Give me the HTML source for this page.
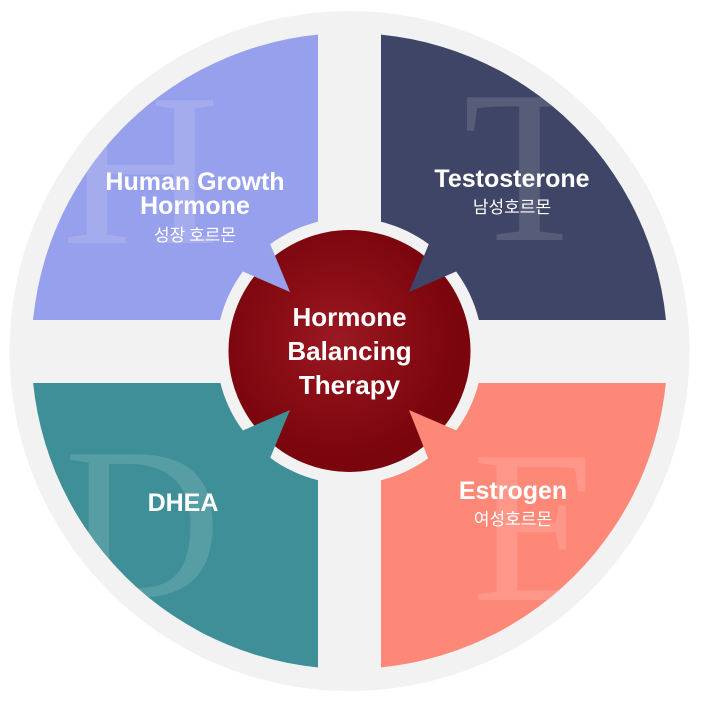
<!DOCTYPE html>
<html><head><meta charset="utf-8"><style>
html,body{margin:0;padding:0;background:#fff;}
svg{display:block}
.t{font-family:"Liberation Sans","Noto Sans CJK KR",sans-serif;fill:#fff;text-anchor:middle;font-weight:bold}
.k{font-family:"Noto Sans CJK KR",sans-serif;fill:#fff;text-anchor:middle;font-size:17px}
.L{font-family:"Liberation Serif",serif;fill:#fff;fill-opacity:0.13;font-size:218px}
</style></head><body>
<svg width="701" height="702" viewBox="0 0 701 702">
<defs>
<clipPath id="c"><circle cx="349.5" cy="351" r="318"/></clipPath>
<radialGradient id="g" cx="0.45" cy="0.45" r="0.5">
<stop offset="0" stop-color="#9a1a22"/><stop offset="0.45" stop-color="#8c0e17"/><stop offset="1" stop-color="#7a050d"/>
</radialGradient>
</defs>
<circle cx="349.5" cy="351" r="340" fill="#f2f2f2"/>
<g clip-path="url(#c)">
<rect x="0" y="0" width="318" height="320" fill="#97a0ec"/>
<rect x="381" y="0" width="320" height="320" fill="#3f4566"/>
<rect x="0" y="383" width="318" height="319" fill="#3e8f97"/>
<rect x="381" y="383" width="320" height="319" fill="#fe8878"/>
<text class="L" x="62" y="243">H</text>
<text class="L" x="463" y="240">T</text>
<text class="L" x="64" y="597">D</text>
<text class="L" x="472" y="600">E</text>
</g>
<circle cx="349.5" cy="351" r="133" fill="#f2f2f2"/>
<circle cx="349.5" cy="351" r="121" fill="url(#g)"/>
<polygon points="239.5,270 268.5,240 290,292" fill="#97a0ec"/>
<polygon points="459.5,270 430.5,240 409,292" fill="#3f4566"/>
<polygon points="239.5,432 268.5,462 290,410" fill="#3e8f97"/>
<polygon points="460,432 430,463 409,410" fill="#fe8878"/>
<text class="t" font-size="26" x="349.5" y="326">Hormone</text>
<text class="t" font-size="26" x="349.5" y="360">Balancing</text>
<text class="t" font-size="26" x="349.5" y="394">Therapy</text>
<text class="t" font-size="25" x="195" y="190">Human Growth</text>
<text class="t" font-size="25" x="195" y="214">Hormone</text>
<text class="k" x="195" y="241">성장 호르몬</text>
<text class="t" font-size="25" x="512" y="187">Testosterone</text>
<text class="k" x="512" y="213">남성호르몬</text>
<text class="t" font-size="25" x="183" y="511">DHEA</text>
<text class="t" font-size="25" x="513" y="499">Estrogen</text>
<text class="k" x="513" y="525">여성호르몬</text>
</svg>
</body></html>
